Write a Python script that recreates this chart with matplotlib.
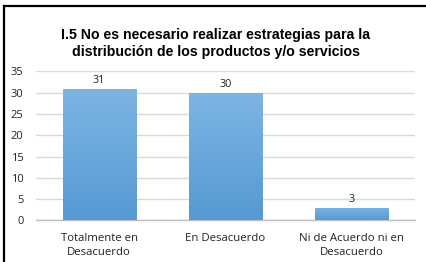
import numpy as np
import matplotlib
matplotlib.use("Agg")
import matplotlib.pyplot as plt
from matplotlib.colors import LinearSegmentedColormap
from matplotlib.lines import Line2D

# data
categories = ["Totalmente en\nDesacuerdo", "En Desacuerdo", "Ni de Acuerdo ni en\nDesacuerdo"]
values = [31, 30, 3]
y_ticks = [0, 5, 10, 15, 20, 25, 30, 35]
title = "I.5 No es necesario realizar estrategias para la\ndistribución de los productos y/o servicios"

fig = plt.figure(figsize=(4.26, 2.62), dpi=100)
ax = fig.add_axes([0.0845, 0.1584, 0.8897, 0.5687])

x = np.arange(len(categories))
bars = ax.bar(x, values, width=0.58, color="none", edgecolor="none", zorder=3)

# vertical gradient fill, lighter on top
cmap = LinearSegmentedColormap.from_list("blu", ["#5699d3", "#7db5e3"])
grad = np.linspace(0, 1, 256).reshape(-1, 1)
for b in bars:
    x0, w, h = b.get_x(), b.get_width(), b.get_height()
    im = ax.imshow(grad, cmap=cmap, origin="lower", aspect="auto",
                   extent=[x0, x0 + w, 0, h], zorder=3)
    im.set_clip_path(b)

for xi, v in zip(x, values):
    ax.text(xi, v + 0.7, str(v), ha="center", va="bottom",
            fontsize=7.8, family="Open Sans", color="#222222")

ax.set_xlim(-0.5, len(categories) - 0.5)
ax.set_ylim(0, 35)
ax.set_yticks(y_ticks)
ax.set_xticks(x)
ax.set_xticklabels(categories, fontsize=8.2, family="Open Sans", color="#222222",
                   linespacing=1.35)
for lab in ax.get_yticklabels():
    lab.set_fontsize(8)
    lab.set_family("Open Sans")
    lab.set_color("#222222")
ax.tick_params(axis="both", length=0)
ax.tick_params(axis="y", pad=9)
ax.tick_params(axis="x", pad=9)
ax.yaxis.grid(True, color="#d9d9d9", linewidth=1)
ax.set_axisbelow(True)
for s in ["top", "right", "left"]:
    ax.spines[s].set_visible(False)
ax.spines["bottom"].set_color("#bfbfbf")
ax.spines["bottom"].set_linewidth(1)

fig.text(0.507, 0.834, title, ha="center", va="center", fontsize=10.2,
         fontweight="bold", family="Liberation Sans", linespacing=1.3)

# chart frame (top and left edges visible)
fig.add_artist(Line2D([0.009, 0.009], [0, 0.978], color="black", linewidth=1.6,
                      transform=fig.transFigure))
fig.add_artist(Line2D([0.009, 1.0], [0.978, 0.978], color="black", linewidth=1.6,
                      transform=fig.transFigure))

fig.savefig("out.png", dpi=100)
